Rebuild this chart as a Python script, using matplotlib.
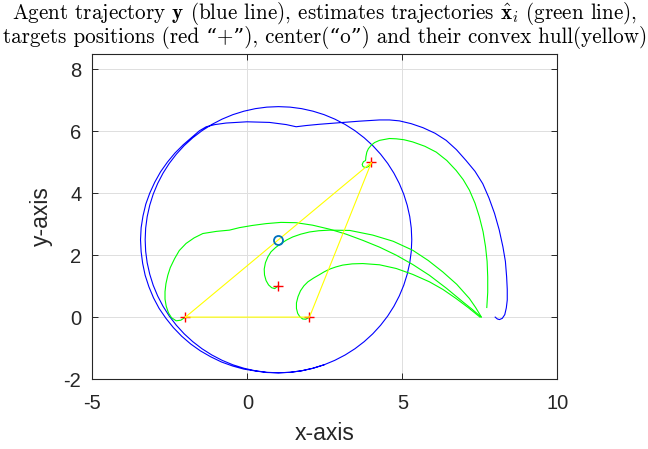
import matplotlib
matplotlib.use('Agg')
import matplotlib.pyplot as plt

# agent trajectory y (blue): approach arc, first (wider) loop, then the steady circle
blue_x = [7.99, 8.06, 8.13, 8.22, 8.30, 8.35, 8.38, 8.38, 8.36, 8.32, 8.24, 8.12, 7.97, 7.79, 7.59, 7.34,
          7.05, 6.74, 6.41, 6.05, 5.66, 5.28, 4.90, 4.58, 4.26, 3.93, 3.61, 2.97, 2.32, 1.90, 1.57, 1.25,
          0.71, -0.02, -0.69, -1.05, -1.33, -1.55,
          -1.78, -2.07, -2.34, -2.58, -2.80, -2.99, -3.15, -3.28, -3.37, -3.43, -3.45, -3.43, -3.38, -3.30,
          -3.18, -3.03, -2.85, -2.63, -2.39, -2.12, -1.83, -1.52, -1.19, -0.84, -0.48, -0.12, 0.25, 0.62,
          1.000, 1.375, 1.746, 2.113, 2.471, 2.817, 3.150, 3.466, 3.764, 4.041, 4.294, 4.523, 4.724, 4.897,
          5.041, 5.153, 5.235, 5.284, 5.300, 5.284, 5.235, 5.153, 5.041, 4.897, 4.724, 4.523, 4.294, 4.041,
          3.764, 3.466, 3.150, 2.817, 2.471, 2.113, 1.746, 1.375, 1.000, 0.625, 0.254, -0.113, -0.471,
          -0.817, -1.150, -1.466, -1.764, -2.041, -2.294, -2.523, -2.724, -2.897, -3.041, -3.153, -3.235,
          -3.284, -3.300, -3.284, -3.235, -3.153, -3.041, -2.897, -2.724, -2.523, -2.294, -2.041, -1.764,
          -1.466, -1.150, -0.817, -0.471, -0.113, 0.254, 0.625, 1.000, 1.375, 1.746, 2.113, 2.471]
blue_y = [0.00, -0.06, -0.08, -0.04, 0.08, 0.30, 0.55, 0.90, 1.30, 1.80, 2.27, 2.82, 3.35, 3.85, 4.31, 4.71,
          5.06, 5.41, 5.71, 5.94, 6.12, 6.25, 6.34, 6.37, 6.37, 6.35, 6.33, 6.28, 6.23, 6.19, 6.15, 6.22,
          6.29, 6.31, 6.27, 6.22, 6.15, 6.02,
          5.82, 5.57, 5.30, 5.01, 4.70, 4.36, 4.01, 3.65, 3.27, 2.89, 2.50, 2.11, 1.73, 1.35,
          0.98, 0.62, 0.28, -0.04, -0.34, -0.62, -0.87, -1.09, -1.28, -1.45, -1.58, -1.68, -1.74, -1.79,
          -1.800, -1.784, -1.735, -1.653, -1.541, -1.397, -1.224, -1.023, -0.794, -0.541, -0.264, 0.034,
          0.350, 0.683, 1.029, 1.387, 1.754, 2.125, 2.500, 2.875, 3.246, 3.613, 3.971, 4.317, 4.650, 4.966,
          5.264, 5.541, 5.794, 6.023, 6.224, 6.397, 6.541, 6.653, 6.735, 6.784, 6.800, 6.784, 6.735, 6.653,
          6.541, 6.397, 6.224, 6.023, 5.794, 5.541, 5.264, 4.966, 4.650, 4.317, 3.971, 3.613, 3.246, 2.875,
          2.500, 2.125, 1.754, 1.387, 1.029, 0.683, 0.350, 0.034, -0.264, -0.541, -0.794, -1.023, -1.224,
          -1.397, -1.541, -1.653, -1.735, -1.784, -1.800, -1.784, -1.735, -1.653, -1.541]

# estimate trajectories x_hat_i (green), one per target
g1_x = [7.54, 7.25, 6.95, 6.42, 5.87, 5.33, 4.80, 4.26, 3.72, 3.18, 2.65, 2.10, 1.57, 1.08, 0.60, 0.15,
        -0.26, -0.58, -1.00, -1.44, -1.72, -1.98, -2.20, -2.35, -2.49, -2.57, -2.63, -2.66, -2.66, -2.62,
        -2.55, -2.45, -2.30, -2.15, -2.00]
g1_y = [0.00, 0.25, 0.49, 0.93, 1.35, 1.70, 2.00, 2.26, 2.48, 2.68, 2.84, 2.97, 3.05, 3.06, 3.02, 2.96,
        2.89, 2.81, 2.77, 2.70, 2.56, 2.38, 2.15, 1.89, 1.60, 1.35, 1.08, 0.82, 0.58, 0.35,
        0.14, -0.02, -0.12, -0.10, 0.00]
g2_x = [7.54, 7.36, 7.16, 6.75, 6.30, 5.83, 5.33, 4.70, 4.04, 3.30, 2.65, 2.30, 2.00, 1.72, 1.46, 1.26,
        1.09, 0.91, 0.76, 0.66, 0.58, 0.54, 0.55, 0.60, 0.68, 0.78, 0.88, 0.98]
g2_y = [0.01, 0.31, 0.60, 1.06, 1.46, 1.83, 2.16, 2.45, 2.65, 2.80, 2.81, 2.79, 2.75, 2.68, 2.59, 2.49,
        2.38, 2.25, 2.11, 1.95, 1.76, 1.55, 1.36, 1.18, 1.04, 0.95, 0.92, 1.00]
g3_x = [7.50, 7.13, 6.73, 6.31, 5.87, 5.33, 4.80, 4.26, 3.72, 3.38, 3.07, 2.85, 2.65, 2.47, 2.32, 2.13,
        1.95, 1.82, 1.71, 1.63, 1.58, 1.58, 1.62, 1.69, 1.78, 1.88, 2.00]
g3_y = [0.00, 0.30, 0.60, 0.89, 1.14, 1.38, 1.57, 1.69, 1.73, 1.72, 1.68, 1.62, 1.55, 1.46, 1.37, 1.26,
        1.14, 1.01, 0.85, 0.66, 0.46, 0.28, 0.12, 0.01, -0.06, -0.07, 0.00]
g4_x = [7.72, 7.75, 7.75, 7.73, 7.68, 7.60, 7.48, 7.34, 7.16, 6.96, 6.73, 6.43, 6.09, 5.72, 5.33, 5.05,
        4.80, 4.58, 4.26, 4.10, 3.99, 3.90, 3.85, 3.82, 3.81, 3.74, 3.70, 3.73, 3.81, 3.90, 3.96, 4.00]
g4_y = [0.31, 0.80, 1.30, 1.80, 2.27, 2.76, 3.24, 3.68, 4.10, 4.44, 4.74, 5.06, 5.33, 5.52, 5.66, 5.73,
        5.76, 5.77, 5.71, 5.64, 5.55, 5.44, 5.33, 5.18, 5.06, 5.02, 4.93, 4.86, 4.83, 4.86, 4.93, 5.00]

# targets, convex hull and center
target_x = [-2, 2, 4, 1]
target_y = [0, 0, 5, 1]
hull_x = [-2, 2, 4, -2]
hull_y = [0, 0, 5, 0]
center_x = [1]
center_y = [2.5]

xticks = [-5, 0, 5, 10]
yticks = [-2, 0, 2, 4, 6, 8]

plt.rcParams['mathtext.fontset'] = 'cm'
plt.rcParams['axes.unicode_minus'] = False
plt.rcParams['font.family'] = ['Liberation Sans', 'DejaVu Sans']

fig = plt.figure(figsize=(6.48, 4.49), dpi=100)
ax = fig.add_axes([0.1427, 0.1559, 0.7176, 0.7238])

ax.plot(blue_x, blue_y, color='#0000ff', lw=0.8)
for gx, gy in [(g1_x, g1_y), (g2_x, g2_y), (g3_x, g3_y), (g4_x, g4_y)]:
    ax.plot(gx, gy, color='#00ff00', lw=0.8)
ax.plot(target_x, target_y, '+', color='#ff0000', ms=6.5, mew=1.0)
ax.plot(hull_x, hull_y, color='#ffff00', lw=0.8)
ax.plot(center_x, center_y, 'o', mfc='none', mec='#0072bd', ms=6.5, mew=1.3)

ax.set_xlim(-5, 10)
ax.set_ylim(-2, 8.5)
ax.set_xticks(xticks)
ax.set_yticks(yticks)
ax.grid(True, color='#dfdfdf', lw=0.7)
ax.set_axisbelow(True)
ax.tick_params(direction='in', length=4, width=0.7, colors='#262626', labelsize=14.5,
               top=True, right=True)
ax.tick_params(axis='x', pad=11)
ax.tick_params(axis='y', pad=8)
for s in ax.spines.values():
    s.set_color('#262626')
    s.set_linewidth(0.8)

ax.set_xlabel('x-axis', fontsize=16.5, color='#262626', labelpad=6)
ax.set_ylabel('y-axis', fontsize=16.5, color='#262626', labelpad=8)

title = ('Agent trajectory $\\mathbf{y}$ (blue line), estimates trajectories '
         '$\\hat{\\mathbf{x}}_i$ (green line),\n'
         'targets positions (red \u201c+\u201d), center(\u201co\u201d) and their convex hull(yellow)')
ax.set_title(title, fontsize=15.2, family=['cmr10', 'DejaVu Serif'], linespacing=0.95, pad=8)

plt.savefig('out.png', dpi=100)
